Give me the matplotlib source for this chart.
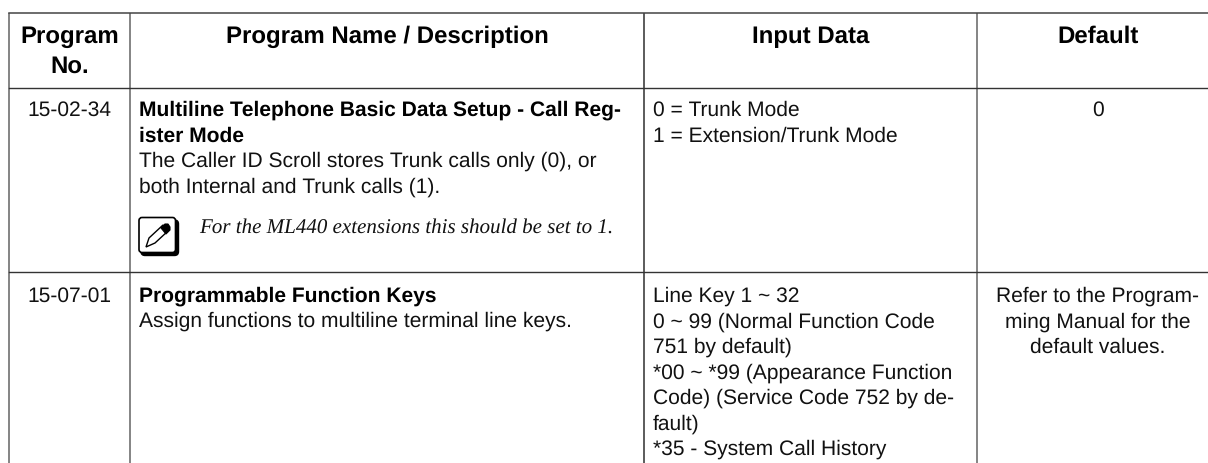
import matplotlib
matplotlib.use("Agg")
import matplotlib.pyplot as plt
from matplotlib.patches import FancyBboxPatch, Polygon

plt.rcParams['font.family'] = ['Liberation Sans', 'DejaVu Sans']
plt.rcParams['text.hinting'] = 'no_hinting'
plt.rcParams['text.hinting_factor'] = 1

W, H = 1208, 464
header_labels = [["Program", "No."], ["Program Name / Description"], ["Input Data"], ["Default"]]
program_numbers = ["15-02-34", "15-07-01"]
row1_title = ["Multiline Telephone Basic Data Setup - Call Reg-", "ister Mode"]
row1_desc = ["The Caller ID Scroll stores Trunk calls only (0), or",
             "both Internal and Trunk calls (1)."]
row1_note = "For the ML440 extensions this should be set to 1."
row1_input = ["0 = Trunk Mode", "1 = Extension/Trunk Mode"]
row1_default = "0"
row2_title = "Programmable Function Keys"
row2_desc = "Assign functions to multiline terminal line keys."
row2_input = ["Line Key 1 ~ 32", "0 ~ 99 (Normal Function Code", "751 by default)",
              "*00 ~ *99 (Appearance Function", "Code) (Service Code 752 by de-",
              "fault)", "*35 - System Call History"]
row2_default = ["Refer to the Program-", "ming Manual for the", "default values."]

col_x = [9, 130, 644, 977, 1219]
row_y = [14, 89, 273]
line_h = 25.5
body_fs = 15.2
head_fs = 17.3

fig = plt.figure(figsize=(W / 100, H / 100), dpi=100)
ax = fig.add_axes([0, 0, 1, 1])
ax.set_xlim(0, W)
ax.set_ylim(H, 0)
ax.axis('off')

for x, c in zip(col_x, ['#707070', '#707070', '#404040', '#707070', '#707070']):
    ax.plot([x, x], [row_y[0], H], color=c, lw=1.2, solid_capstyle='butt')
ax.plot([col_x[0], col_x[-1]], [row_y[0]] * 2, color='#444444', lw=1.1)
ax.plot([col_x[0], col_x[-1]], [row_y[1]] * 2, color='#333333', lw=1.0)
ax.plot([col_x[0], col_x[-1]], [row_y[2]] * 2, color='#333333', lw=1.0)


def t(x, y, s, **kw):
    kw.setdefault('fontsize', body_fs)
    kw.setdefault('color', '#111111')
    kw.setdefault('va', 'baseline')
    ax.text(x, y, s, **kw)


mid = [(col_x[i] + col_x[i + 1]) / 2 for i in range(4)]
t(mid[0], 43, header_labels[0][0], ha='center', fontweight='bold', fontsize=head_fs, color='black')
t(mid[0], 72.7, header_labels[0][1], ha='center', fontweight='bold', fontsize=head_fs, color='black')
for i in (1, 2, 3):
    t(mid[i], 43, header_labels[i][0], ha='center', fontweight='bold', fontsize=head_fs, color='black')

# Row 1
t(mid[0], 116, program_numbers[0], ha='center')
for i, s in enumerate(row1_title):
    t(139, 116 + i * 26, s, fontweight='bold', color='black')
for i, s in enumerate(row1_desc):
    t(139, 167 + i * line_h, s)
for i, s in enumerate(row1_input):
    t(653, 116 + i * line_h, s)
t(mid[3], 116, row1_default, ha='center')

# Note icon
ax.add_patch(FancyBboxPatch((141, 221), 37.5, 35.5, boxstyle='round,pad=0,rounding_size=4',
                            fc='black', ec='black', lw=1))
ax.add_patch(FancyBboxPatch((139, 218.5), 36.5, 35, boxstyle='round,pad=0,rounding_size=3',
                            fc='white', ec='black', lw=1.2))
ax.add_patch(Polygon([(146, 248), (149, 239), (163, 226), (168, 232), (155, 244)],
                     closed=True, fc='white', ec='black', lw=1))
ax.add_patch(Polygon([(161, 229), (165, 225), (168, 225), (170, 228), (170, 231), (166, 235)],
                     closed=True, fc='black', ec='black', lw=0.8))
t(199, 233, row1_note, family=['Liberation Serif'], style='italic', fontsize=15.1)

# Row 2
t(mid[0], 302, program_numbers[1], ha='center')
t(139, 302, row2_title, fontweight='bold', color='black')
t(139, 327, row2_desc)
for i, s in enumerate(row2_input):
    t(653, 302 + i * line_h, s)
for i, s in enumerate(row2_default):
    t(mid[3], 302 + i * line_h, s, ha='center')

fig.savefig('out.png', dpi=100)
